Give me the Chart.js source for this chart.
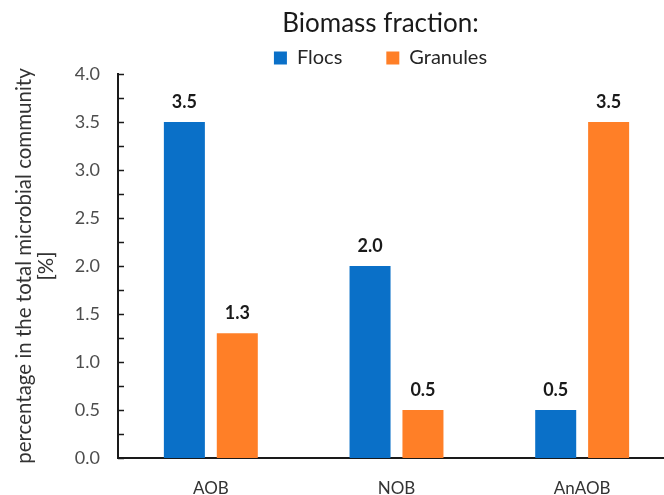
<!DOCTYPE html>
<html>
<head>
<meta charset="utf-8">
<title>Biomass fraction</title>
<script src="https://cdn.jsdelivr.net/npm/chart.js@4.4.1/dist/chart.umd.min.js"></script>
<style>
  html, body { margin: 0; padding: 0; background: #fff; overflow: hidden; }
  canvas { display: block; }
</style>
</head>
<body>
<canvas id="chart" width="680" height="495"></canvas>
<script>
// data
const categories = ['AOB', 'NOB', 'AnAOB'];
const flocs = [3.5, 2.0, 0.5];
const granules = [1.3, 0.5, 3.5];
const seriesNames = ['Flocs', 'Granules'];
const yMin = 0, yMax = 4, yStep = 0.5, yMinorStep = 0.25;

const FONT = 'Lato';
const BLUE = '#0a70c8';
const ORANGE = '#ff7f27';

// small inward tick marks on the value axis (every 0.25)
const innerTicks = {
    id: 'innerTicks',
    afterDraw(chart) {
        const y = chart.scales.y;
        const x0 = chart.chartArea.left;
        const ctx = chart.ctx;
        ctx.save();
        ctx.strokeStyle = '#1a1a1a';
        ctx.lineWidth = 1.5;
        for (let v = yMin; v <= yMax + 1e-9; v += yMinorStep) {
            const py = Math.round(y.getPixelForValue(v)) + 0.5;
            ctx.beginPath();
            ctx.moveTo(x0, py);
            ctx.lineTo(x0 + 6, py);
            ctx.stroke();
        }
        ctx.restore();
    }
};

// value labels above the bars
const barLabels = {
    id: 'barLabels',
    afterDatasetsDraw(chart) {
        const ctx = chart.ctx;
        ctx.save();
        ctx.font = `bold 18px ${FONT}`;
        ctx.fillStyle = '#1a1a1a';
        ctx.textAlign = 'center';
        ctx.textBaseline = 'alphabetic';
        chart.data.datasets.forEach((ds, i) => {
            chart.getDatasetMeta(i).data.forEach((bar, j) => {
                ctx.fillText(ds.data[j].toFixed(1), bar.x, bar.y - 14);
            });
        });
        ctx.restore();
    }
};

// legend block sits a little left of the plot centre in the original
const nudgeLegend = {
    id: 'nudgeLegend',
    afterLayout(chart) {
        chart.legend.left -= 16;
        chart.legend.right -= 16;
    }
};

new Chart(document.getElementById('chart'), {
    type: 'bar',
    data: {
        labels: categories,
        datasets: [
            { label: seriesNames[0], data: flocs, backgroundColor: BLUE },
            { label: seriesNames[1], data: granules, backgroundColor: ORANGE }
        ]
    },
    options: {
        responsive: false,
        animation: false,
        devicePixelRatio: 1,
        categoryPercentage: 0.57,
        barPercentage: 0.775,
        layout: { padding: { left: 0, right: 5, top: 0, bottom: 0 } },
        plugins: {
            tooltip: { enabled: false },
            legend: {
                position: 'top',
                fullSize: false,
                maxHeight: 74,
                title: {
                    display: true,
                    text: 'Biomass fraction:',
                    color: '#1a1a1a',
                    font: { family: FONT, size: 26, lineHeight: 1 },
                    padding: { top: 11, bottom: -33 }
                },
                labels: {
                    boxWidth: 13,
                    boxHeight: 13,
                    padding: 44,
                    color: '#262626',
                    font: { family: FONT, size: 20 }
                }
            }
        },
        scales: {
            x: {
                grid: { display: false, drawTicks: false },
                border: { display: true, color: '#1a1a1a', width: 2 },
                ticks: { color: '#333', padding: 20, font: { family: FONT, size: 17 } },
                afterFit(scale) { scale.height = 37; }
            },
            y: {
                min: yMin,
                max: yMax,
                grid: { display: false, drawTicks: false },
                border: { display: true, color: '#1a1a1a', width: 2 },
                ticks: {
                    stepSize: yStep,
                    padding: 18,
                    color: '#4d4d4d',
                    font: { family: FONT, size: 18 },
                    callback: v => v.toFixed(1)
                },
                title: {
                    display: true,
                    text: ['percentage in the total microbial community', '[%]'],
                    color: '#333',
                    font: { family: FONT, size: 20.5, lineHeight: 1.1 },
                    padding: { top: 13, bottom: 0 }
                },
                afterFit(scale) { scale.width = 118; }
            }
        }
    },
    plugins: [innerTicks, barLabels, nudgeLegend]
});
</script>
</body>
</html>
